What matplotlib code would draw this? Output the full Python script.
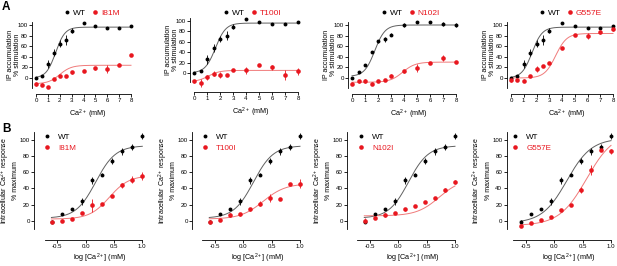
import matplotlib
matplotlib.use("Agg")
import matplotlib.pyplot as plt
import matplotlib.transforms as mtransforms
from matplotlib.lines import Line2D
import numpy as np

plt.rcParams['font.family'] = ['Liberation Sans', 'DejaVu Sans']
plt.rcParams['mathtext.fontset'] = 'custom'
plt.rcParams['mathtext.rm'] = 'Liberation Sans'
plt.rcParams['mathtext.it'] = 'Liberation Sans:italic'

# ---- data: panel A, IP accumulation (% stimulation) vs Ca2+ (mM)
ca_conc = [0, 0.5, 1, 1.5, 2, 2.5, 3, 4, 5, 6, 7, 8]
wt_ip = [0, 3, 26, 48, 65, 72, 89, 103, 98, 95, 94, 99]
wt_ip_err = [1, 2, 8, 7, 6, 9, 5, 1, 1, 2, 1, 1]
wt_ip_n102i = [0, 11, 25, 49, 69, 73, 82, 100, 105, 106, 102, 100]
wt_ip_n102i_err = [2, 2, 2, 2, 3, 5, 3, 3, 2, 1, 3, 3]
i81m_ip = [-11, -13, -17, -2, 3, 3, 11, 14, 18, 17, 25, 44]
i81m_ip_err = [4, 3, 2, 2, 2, 2, 3, 2, 2, 7, 3, 2]
t100i_ip = [-16, -19, -8, -1, -4, -4, 5, 5, 15, 11, -4, 3]
t100i_ip_err = [3, 8, 5, 5, 5, 2, 2, 6, 2, 5, 9, 6]
n102i_ip = [-11, -6, -6, -11, -5, -4, 4, 13, 19, 28, 38, 31]
n102i_ip_err = [3, 3, 4, 3, 2, 2, 3, 3, 7, 2, 6, 2]
g557e_ip = [-4, -3, -5, 4, 17, 22, 28, 56, 81, 79, 86, 92]
g557e_ip_err = [3, 2, 3, 2, 5, 2, 2, 2, 2, 5, 3, 3]

# ---- data: panel B, intracellular Ca2+ response (% maximum) vs log [Ca2+]
log_ca = [-0.585, -0.409, -0.233, -0.057, 0.119, 0.295, 0.471, 0.648, 0.824, 1.0]
wt_ca = [-1, 8, 14, 24, 50, 57, 74, 86, 91, 105]
wt_ca_err = [2, 1, 1, 4, 4, 2, 4, 4, 4, 4]
i81m_ca = [-1, 0, 2, 10, 19, 21, 31, 44, 51, 55]
i81m_ca_err = [1, 2, 1, 1, 8, 1, 1, 3, 4, 5]
t100i_ca = [-1, 1, 7, 8, 14, 21, 28, 27, 45, 46]
t100i_ca_err = [1, 1, 3, 2, 2, 3, 5, 1, 1, 6]
n102i_ca = [0, 3, 7, 9, 14, 18, 23, 28, 38, 48]
n102i_ca_err = [3, 1, 2, 1, 2, 1, 1, 1, 3, 2]
g557e_ca = [-6, -3, 1, 4, 13, 19, 38, 63, 88, 86]
g557e_ca_err = [1, 1, 1, 1, 1, 1, 4, 6, 2, 3]

mutants = ["I81M", "T100I", "N102I", "G557E"]

# fitted curve parameters (bottom, top, midpoint, slope)
fit_a_wt = [(0, 96, 1.65, 1.1), (0, 96, 1.65, 1.1), (3, 100, 1.75, 1.1), (0, 96, 1.65, 1.1)]
fit_a_mut = [(-11, 24, 2.0, 0.9), (-17, 5, 1.1, 1.0), (-8, 30, 3.9, 0.9), (0, 84, 3.5, 1.0)]
fit_b_wt = [(3, 93, 0.18, 2.5), (3, 93, 0.18, 2.5), (3, 93, 0.18, 2.5), (-3, 102, 0.22, 2.0)]
fit_b_mut = [(2, 56, 0.42, 2.5), (2, 46, 0.35, 2.2), (6, 52, 0.72, 2.2), (-6, 110, 0.57, 1.8)]

W, H = 617, 266
RED = "#e8171f"
RED_FIT = "#f07a7a"
GREY_FIT = "#606060"
TICK_FS = 4.4
LABEL_FS = 5.0


def logistic(x, p):
    bottom, top, mid, slope = p
    return bottom + (top - bottom) / (1 + 10 ** ((mid - x) * slope))


def place_axes(fig, xref, yref, xlim, ylim):
    # xref/yref: ((data, pixel), (data, pixel)), pixels measured from top-left
    (xa, pxa), (xb, pxb) = xref
    sx = (pxb - pxa) / (xb - xa)
    left = pxa + (xlim[0] - xa) * sx
    right = pxa + (xlim[1] - xa) * sx
    (ya, pya), (yb, pyb) = yref
    sy = (pya - pyb) / (yb - ya)
    top = pya - (ylim[1] - ya) * sy
    bottom = pya - (ylim[0] - ya) * sy
    ax = fig.add_axes([left / W, 1 - bottom / H, (right - left) / W, (bottom - top) / H])
    ax.set_xlim(xlim)
    ax.set_ylim(ylim)
    return ax, left, bottom


def style_axes(ax, axis_px, bottom_px, xbounds):
    for s in ["top", "right"]:
        ax.spines[s].set_visible(False)
    for s in ["left", "bottom"]:
        ax.spines[s].set_linewidth(0.6)
    ax.spines["bottom"].set_position(("outward", (axis_px - bottom_px) * 0.72))
    ax.spines["bottom"].set_bounds(*xbounds)
    ax.tick_params(length=2, width=0.6, pad=1.2, labelsize=TICK_FS)


def set_labels(fig, ax, xlabel, ylabel, xlab_x, xlab_top, ylab_right):
    ax.set_xlabel(xlabel, fontsize=5.2)
    ax.set_ylabel(ylabel, fontsize=LABEL_FS, linespacing=1.05)
    ax.xaxis.set_label_coords(xlab_x, 1 - xlab_top / H,
                              transform=mtransforms.blended_transform_factory(ax.transData, fig.transFigure))
    ax.yaxis.set_label_coords(ylab_right / W, 0.5,
                              transform=mtransforms.blended_transform_factory(fig.transFigure, ax.transAxes))


def draw(ax, x, y, err, color, size):
    ax.errorbar(x, y, yerr=err, fmt="o", color=color, ms=size, mew=0,
                elinewidth=0.6, capsize=1.2, capthick=0.6, clip_on=False, zorder=3)


fig = plt.figure(figsize=(W / 100, H / 100), dpi=100)

a_xpix = [(36, 131), (194, 298), (352, 456), (511, 613)]
a_ypix = [(78, 25), (73, 21), (78, 25), (78, 25)]
a_axis = [94, 92, 94, 94]
a_wt = [(wt_ip, wt_ip_err), (wt_ip, wt_ip_err), (wt_ip_n102i, wt_ip_n102i_err), (wt_ip, wt_ip_err)]
a_mut = [(i81m_ip, i81m_ip_err), (t100i_ip, t100i_ip_err), (n102i_ip, n102i_ip_err), (g557e_ip, g557e_ip_err)]
a_leg = [67, 226, 384, 542]

b_xpix = [(85.5, 142.3), (243.3, 300), (398.3, 455), (554.3, 611)]
b_mut = [(i81m_ca, i81m_ca_err), (t100i_ca, t100i_ca_err), (n102i_ca, n102i_ca_err), (g557e_ca, g557e_ca_err)]
b_left = [-0.9, -0.9, -0.9, -0.84]
b_leg = [47, 205, 361, 515]

xa_fit = np.linspace(0, 8, 200)
xb_fit = np.linspace(-0.6, 1.0, 200)

for i in range(4):
    handles = [Line2D([], [], marker="o", ls="", color="black", ms=2.8, mew=0),
               Line2D([], [], marker="o", ls="", color=RED, ms=3.3, mew=0)]

    # ---- row A
    ax, lpx, bpx = place_axes(fig, ((0, a_xpix[i][0]), (8, a_xpix[i][1])),
                              ((0, a_ypix[i][0]), (100, a_ypix[i][1])), (-0.3, 8.2), (-18, 106))
    style_axes(ax, a_axis[i], bpx, (0, 8))
    ax.plot(xa_fit, logistic(xa_fit, fit_a_wt[i]), color=GREY_FIT, lw=0.7)
    ax.plot(xa_fit, logistic(xa_fit, fit_a_mut[i]), color=RED_FIT, lw=0.7)
    draw(ax, ca_conc, a_wt[i][0], a_wt[i][1], "black", 2.8)
    draw(ax, ca_conc, a_mut[i][0], a_mut[i][1], RED, 3.3)
    ax.set_xticks(range(9))
    ax.set_yticks([0, 20, 40, 60, 80, 100])
    set_labels(fig, ax, "Ca$^{2+}$ (mM)", "IP accumulation\n% stimulation",
               4.4, a_axis[i] + 14, lpx - 11)
    leg = ax.legend(handles, ["WT", mutants[i]], ncol=2, frameon=False, fontsize=6,
                    loc="center left", bbox_to_anchor=((a_leg[i] - 3.3) / W, 1 - 13 / H),
                    bbox_transform=fig.transFigure, borderpad=0, borderaxespad=0,
                    handlelength=0.8, handletextpad=0.35, columnspacing=0.6)
    leg.get_texts()[1].set_color(RED)

    # ---- row B
    ax, lpx, bpx = place_axes(fig, ((0, b_xpix[i][0]), (1, b_xpix[i][1])),
                              ((0, 220.7), (100, 140)), (b_left[i], 1.05), (-10, 110))
    style_axes(ax, 240, bpx, (-0.72, 1.0))
    ax.plot(xb_fit, logistic(xb_fit, fit_b_wt[i]), color=GREY_FIT, lw=0.7)
    ax.plot(xb_fit, logistic(xb_fit, fit_b_mut[i]), color=RED_FIT, lw=0.7)
    draw(ax, log_ca, wt_ca, wt_ca_err, "black", 2.8)
    draw(ax, log_ca, b_mut[i][0], b_mut[i][1], RED, 3.3)
    ax.set_xticks([-0.5, 0.0, 0.5, 1.0])
    ax.set_xticklabels(["-0.5", "0.0", "0.5", "1.0"])
    ax.set_yticks([0, 20, 40, 60, 80, 100])
    set_labels(fig, ax, "log [Ca$^{2+}$] (mM)", "Intracellular Ca$^{2+}$ response\n% maximum",
               0.25, 252, lpx - 15)
    leg = ax.legend(handles, ["WT", mutants[i]], frameon=False, fontsize=5.8,
                    loc="upper left", bbox_to_anchor=((b_leg[i] - 3.3) / W, 1 - 133 / H),
                    bbox_transform=fig.transFigure, borderpad=0, borderaxespad=0,
                    handlelength=0.8, handletextpad=1.0, labelspacing=0.45)
    leg.get_texts()[1].set_color(RED)

fig.text(2 / W, 1 - 1 / H, "A", fontsize=8.5, fontweight="bold", va="top")
fig.text(2 / W, 1 - 123 / H, "B", fontsize=8.5, fontweight="bold", va="top")

fig.savefig("out.png", dpi=100)
